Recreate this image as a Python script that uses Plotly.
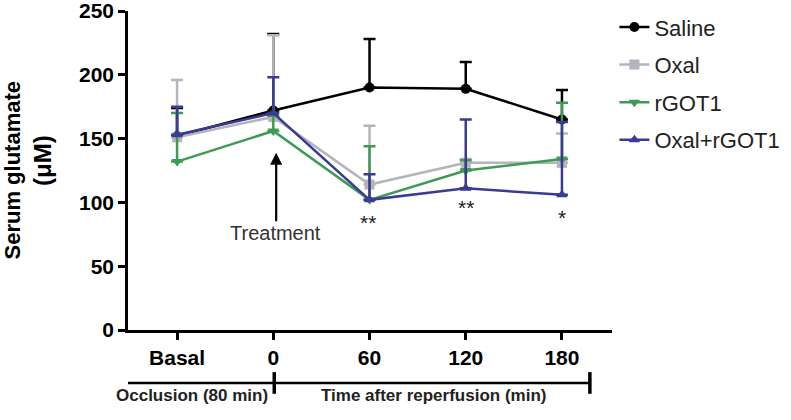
import plotly.graph_objects as go

categories = ["Basal", "0", "60", "120", "180"]
series_names = ["Saline", "Oxal", "rGOT1", "Oxal+rGOT1"]
saline = [152, 172, 190, 189, 165]
saline_upper = [174, 232, 228, 210, 188]
oxal = [151, 167, 114, 131, 131]
oxal_upper = [196, 231, 160, 134, 154]
rgot1 = [132, 156, 102, 125, 134]
rgot1_upper = [170, 168, 144, 133, 178]
combo = [153, 170, 102, 111, 106]
combo_upper = [175, 198, 122, 165, 163]
y_ticks = [0, 50, 100, 150, 200, 250]

colors = ["#000000", "#b4b4bc", "#3f9a55", "#3b3a94"]
symbols = ["circle", "square", "triangle-down", "triangle-up"]
means = [saline, oxal, rgot1, combo]
uppers = [saline_upper, oxal_upper, rgot1_upper, combo_upper]

xpos = list(range(len(categories)))
fig = go.Figure()
for name, m, u, c, s in zip(series_names, means, uppers, colors, symbols):
    fig.add_trace(go.Scatter(
        x=xpos, y=m, name=name, mode="lines+markers", legendgroup=name,
        line=dict(color=c, width=2.5),
        marker=dict(color=c, symbol=s, size=10),
        error_y=dict(type="data", symmetric=False,
                     array=[a - b for a, b in zip(u, m)],
                     arrayminus=[0] * len(m),
                     color=c, thickness=2.5, width=6),
    ))

font = "Liberation Sans, Arial, sans-serif"
fig.update_layout(
    width=791, height=420,
    margin=dict(l=128, r=179, t=11, b=90, autoexpand=False),
    plot_bgcolor="white", paper_bgcolor="white",
    font=dict(family=font, color="black"),
    showlegend=True,
    legend=dict(x=1.005, y=1.015, xanchor="left", yanchor="top",
                font=dict(size=22, color="#222"), itemwidth=30,
                tracegroupgap=6, bgcolor="rgba(0,0,0,0)"),
    xaxis=dict(range=[-0.51, 4.52], tickvals=xpos, ticktext=categories,
               showgrid=False, zeroline=False, showline=True, automargin=False,
               linecolor="black", linewidth=2.5, ticks="outside",
               ticklen=7, tickwidth=2.5, tickcolor="black",
               ticklabeloverflow="allow",
               tickfont=dict(size=21, family=font, weight="bold")),
    yaxis=dict(range=[0, 250], tickvals=y_ticks, showgrid=False,
               zeroline=False, showline=True, linecolor="black", automargin=False,
               linewidth=2.5, ticks="outside", ticklen=7, tickwidth=2.5,
               tickcolor="black", ticklabeloverflow="allow",
               tickfont=dict(size=21, family=font, weight="bold")),
)

# y-axis title (two lines)
fig.add_annotation(xref="paper", yref="paper", x=0, y=0.50, xshift=-116,
                   xanchor="center", yanchor="middle",
                   text="Serum glutamate", textangle=-90, showarrow=False,
                   font=dict(size=22, family=font, weight="bold"))
fig.add_annotation(xref="paper", yref="paper", x=0, y=0.53, xshift=-85,
                   xanchor="center", yanchor="middle",
                   text="(μM)", textangle=-90, showarrow=False,
                   font=dict(size=24, family=font, weight="bold"))

# significance stars
stars = [("**", 1.98, 84), ("**", 3.0, 96), ("*", 4.0, 88)]
for txt, xi, yv in stars:
    fig.add_annotation(x=xi, y=yv, text=txt, showarrow=False,
                       yanchor="middle", font=dict(size=21, color="#222"))

# treatment arrow
fig.add_annotation(x=1.03, y=139, ax=1.03, ay=84, axref="x", ayref="y",
                   xref="x", yref="y", text="", showarrow=True,
                   arrowhead=2, arrowsize=1.1, arrowwidth=2.2, arrowcolor="black")
fig.add_annotation(x=1.02, y=76, text="Treatment", showarrow=False,
                   font=dict(size=20, color="#333"))

# timeline bracket below the axis
yb = -0.166
fig.add_shape(type="line", xref="x", yref="paper", x0=-0.59, x1=4.29,
              y0=yb, y1=yb, line=dict(color="black", width=2.5))
for xv in [-0.59, 1.01, 4.29]:
    fig.add_shape(type="line", xref="x", yref="paper", x0=xv, x1=xv,
                  y0=yb - 0.034, y1=yb + 0.034,
                  line=dict(color="black", width=3.5))
fig.add_annotation(x=0.16, y=-0.241, xref="x", yref="paper",
                   text="Occlusion (80 min)", showarrow=False,
                   font=dict(size=17, family=font, weight="bold", color="#222"))
fig.add_annotation(x=2.66, y=-0.241, xref="x", yref="paper",
                   text="Time after reperfusion (min)", showarrow=False,
                   font=dict(size=17, family=font, weight="bold", color="#222"))

fig.write_html("out.html", config={"displayModeBar": False},
               post_script="document.body.style.margin='0';")
